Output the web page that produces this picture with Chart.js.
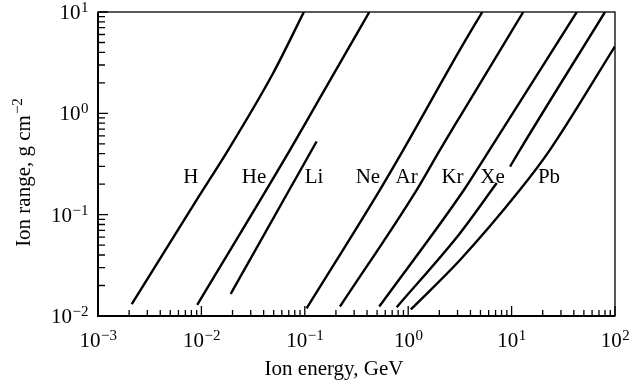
<!DOCTYPE html>
<html>
<head>
<meta charset="utf-8">
<script src="https://cdn.jsdelivr.net/npm/chart.js@4"></script>
<style>
  html, body { margin: 0; padding: 0; background: #fff; }
  #wrap { width: 640px; height: 385px; }
</style>
</head>
<body>
<div id="wrap"><canvas id="rangeChart"></canvas></div>
<script>
// axis decades and exponents shown as tick labels
const xMajor = [0.001, 0.01, 0.1, 1, 10, 100];
const xExp = ['−3', '−2', '−1', '0', '1', '2'];
const yMajor = [0.01, 0.1, 1, 10];
const yExp = ['−2', '−1', '0', '1'];
const minorSteps = [2, 3, 4, 5, 6, 7, 8, 9];

// ion energy (GeV) vs range (g cm^-2)
const ions = ['H', 'He', 'Li', 'Ne', 'Ar', 'Kr', 'Xe', 'Pb'];
const hEnergy = [0.00212, 0.0090, 0.0182, 0.0495, 0.098];
const hRange = [0.0131, 0.140, 0.436, 2.50, 10];
const heEnergy = [0.00912, 0.0720, 0.196, 0.421];
const heRange = [0.0129, 0.436, 2.58, 10];
const liEnergy = [0.0192, 0.130];
const liRange = [0.0165, 0.527];
const neEnergy = [0.104, 0.533, 0.897, 3.17, 5.21];
const neRange = [0.0119, 0.176, 0.436, 4.25, 10];
const arEnergy = [0.219, 1.21, 2.03, 3.17, 12.97];
const arRange = [0.0124, 0.176, 0.436, 0.93, 10];
const krEnergy = [0.525, 3.47, 5.32, 42.7];
const krRange = [0.0124, 0.176, 0.348, 10];
const xeEnergy = [0.774, 3.17, 7.18, 8.3, 9.66, 12.05, 80];
const xeRange = [0.0122, 0.0656, 0.205, null, 0.298, 0.436, 10]; // break behind the "Xe" label
const pbEnergy = [1.06, 3.17, 12.05, 23.5, 100];
const pbRange = [0.0116, 0.0357, 0.176, 0.436, 4.58];

// where the ion names sit (centre x, baseline y)
const labelEnergy = [0.00789, 0.0323, 0.1227, 0.408, 0.967, 2.68, 6.53, 23.0];
const labelRange = [0.205, 0.205, 0.205, 0.205, 0.205, 0.205, 0.205, 0.205];

const curves = [
  [hEnergy, hRange], [heEnergy, heRange], [liEnergy, liRange], [neEnergy, neRange],
  [arEnergy, arRange], [krEnergy, krRange], [xeEnergy, xeRange], [pbEnergy, pbRange]
];

const FONT = "'Liberation Serif', 'Times New Roman', serif";

function toPoints(energy, range) {
  return energy.map((e, i) => ({ x: e, y: range[i] }));
}

// draws "10" with a raised exponent
function drawPower(ctx, exp, x, y, align) {
  ctx.font = '21px ' + FONT;
  const wb = ctx.measureText('10').width;
  ctx.font = '15px ' + FONT;
  const we = ctx.measureText(exp).width;
  const total = wb + we;
  let start = align === 'right' ? x - total : x - total / 2;
  ctx.textAlign = 'left';
  ctx.textBaseline = 'alphabetic';
  ctx.font = '21px ' + FONT;
  ctx.fillText('10', start, y);
  ctx.font = '15px ' + FONT;
  ctx.fillText(exp, start + wb + 0.5, y - 7);
}

const axisPlugin = {
  id: 'axisPlugin',
  afterDraw(chart) {
    const { ctx, chartArea: a, scales: { x, y } } = chart;
    ctx.save();
    ctx.strokeStyle = '#000';
    ctx.fillStyle = '#000';

    // frame
    ctx.lineWidth = 1.3;
    ctx.strokeRect(a.left, a.top, a.right - a.left, a.bottom - a.top);
    ctx.lineWidth = 2;
    ctx.beginPath();
    ctx.moveTo(a.left, a.top);
    ctx.lineTo(a.left, a.bottom);
    ctx.lineTo(a.right, a.bottom);
    ctx.stroke();

    // inward ticks
    ctx.lineWidth = 1.3;
    ctx.beginPath();
    xMajor.forEach((d, i) => {
      const px = x.getPixelForValue(d);
      ctx.moveTo(px, a.bottom);
      ctx.lineTo(px, a.bottom - 10);
      if (i < xMajor.length - 1) {
        minorSteps.forEach(m => {
          const p = x.getPixelForValue(d * m);
          ctx.moveTo(p, a.bottom);
          ctx.lineTo(p, a.bottom - 6);
        });
      }
    });
    yMajor.forEach((d, i) => {
      const py = y.getPixelForValue(d);
      ctx.moveTo(a.left, py);
      ctx.lineTo(a.left + 10, py);
      if (i < yMajor.length - 1) {
        minorSteps.forEach(m => {
          const p = y.getPixelForValue(d * m);
          ctx.moveTo(a.left, p);
          ctx.lineTo(a.left + 7, p);
        });
      }
    });
    ctx.stroke();

    // tick labels
    xMajor.forEach((d, i) => drawPower(ctx, xExp[i], x.getPixelForValue(d), a.bottom + 31, 'center'));
    yMajor.forEach((d, i) => drawPower(ctx, yExp[i], a.left - 10, y.getPixelForValue(d) + 7, 'right'));

    // ion names
    ctx.font = '21px ' + FONT;
    ctx.textAlign = 'center';
    ctx.textBaseline = 'alphabetic';
    ions.forEach((name, i) => {
      ctx.fillText(name, x.getPixelForValue(labelEnergy[i]), y.getPixelForValue(labelRange[i]));
    });

    // x axis title
    ctx.fillText('Ion energy, GeV', a.left + 236, a.bottom + 59);

    // y axis title, rotated
    ctx.save();
    ctx.translate(30, (a.top + a.bottom) / 2 + 9);
    ctx.rotate(-Math.PI / 2);
    ctx.font = '21px ' + FONT;
    const main = 'Ion range, g cm';
    const wm = ctx.measureText(main).width;
    ctx.font = '15px ' + FONT;
    const ws = ctx.measureText('−2').width;
    const start = -(wm + ws) / 2;
    ctx.textAlign = 'left';
    ctx.font = '21px ' + FONT;
    ctx.fillText(main, start, 0);
    ctx.font = '15px ' + FONT;
    ctx.fillText('−2', start + wm + 1, -8);
    ctx.restore();

    ctx.restore();
  }
};

new Chart(document.getElementById('rangeChart'), {
  type: 'scatter',
  data: {
    datasets: curves.map((c, i) => ({
      label: ions[i],
      data: toPoints(c[0], c[1]),
      showLine: true,
      borderColor: '#000',
      borderWidth: 2.4,
      pointRadius: 0,
      cubicInterpolationMode: 'monotone',
      spanGaps: false,
      fill: false
    }))
  },
  options: {
    responsive: true,
    maintainAspectRatio: false,
    animation: false,
    layout: { padding: { left: 98, right: 25, top: 12, bottom: 69 } },
    plugins: {
      legend: { display: false },
      tooltip: { enabled: false }
    },
    scales: {
      x: { type: 'logarithmic', min: 0.001, max: 100, display: false },
      y: { type: 'logarithmic', min: 0.01, max: 10, display: false }
    }
  },
  plugins: [axisPlugin]
});
</script>
</body>
</html>
